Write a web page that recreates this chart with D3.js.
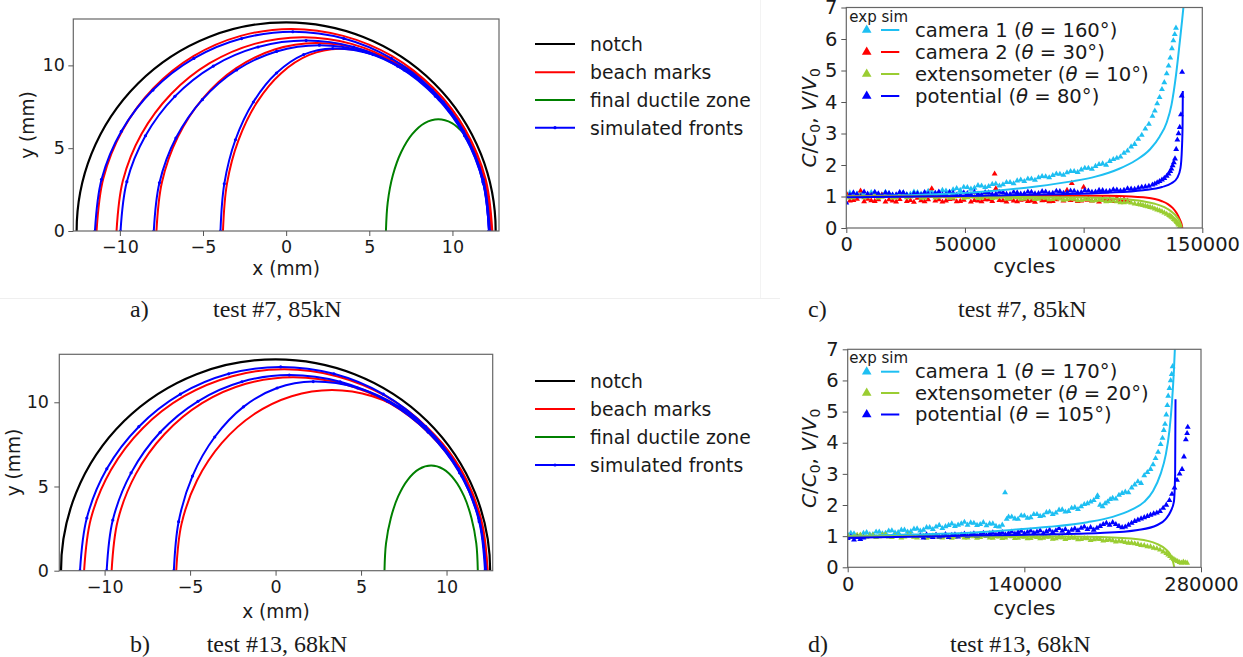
<!DOCTYPE html>
<html><head><meta charset="utf-8">
<script src="https://cdn.jsdelivr.net/npm/d3@7"></script>
<style>
body{margin:0;background:#fff}
svg{display:block}
text{font-family:"DejaVu Sans",sans-serif;fill:#1a1a1a}
</style>
</head><body>
<svg id="fig" width="1243" height="657"></svg>
<script>
// ---------------- DATA ----------------
// Panel a (test #7) crack fronts, [x mm, y mm]
const notchRadiusA = 12.6;
const beachMarksA = [
  [[-11.4,0],[-11.0,3.16],[-9.83,6.1],[-7.97,8.63],[-5.55,10.57],[-2.73,11.78],[0.3,12.2],[3.43,11.78],[6.35,10.57],[8.85,8.63],[10.78,6.1],[11.99,3.16],[12.4,0]],
  [[-10.2,0],[-9.82,3.03],[-8.7,5.85],[-6.92,8.27],[-4.6,10.13],[-1.9,11.3],[1.0,11.7],[3.93,11.3],[6.65,10.13],[8.99,8.27],[10.79,5.85],[11.92,3.03],[12.3,0]],
  [[-7.8,0],[-7.47,2.94],[-6.51,5.68],[-4.99,8.02],[-3.0,9.83],[-0.69,10.96],[1.8,11.35],[4.52,10.96],[7.05,9.83],[9.22,8.02],[10.89,5.68],[11.94,2.94],[12.3,0]],
  [[-3.8,0],[-3.56,2.85],[-2.86,5.5],[-1.75,7.78],[-0.3,9.53],[1.39,10.63],[3.2,11.0],[5.56,10.63],[7.75,9.53],[9.63,7.78],[11.08,5.5],[11.99,2.85],[12.3,0]]
];
const simFrontsA = [
  [[-11.5,0],[-11.1,3.12],[-9.91,6.02],[-8.01,8.51],[-5.55,10.42],[-2.68,11.62],[0.4,12.03],[3.47,11.62],[6.33,10.42],[8.78,8.51],[10.66,6.02],[11.85,3.12],[12.25,0]],
  [[-9.96,0],[-9.58,2.98],[-8.46,5.75],[-6.69,8.13],[-4.38,9.96],[-1.69,11.11],[1.2,11.5],[4.05,11.11],[6.7,9.96],[8.98,8.13],[10.73,5.75],[11.83,2.98],[12.2,0]],
  [[-7.96,0],[-7.62,2.91],[-6.63,5.61],[-5.04,7.93],[-2.98,9.72],[-0.58,10.84],[2.0,11.22],[4.64,10.84],[7.1,9.72],[9.21,7.93],[10.83,5.61],[11.85,2.91],[12.2,0]],
  [[-3.95,0],[-3.72,2.85],[-3.05,5.51],[-1.97,7.79],[-0.58,9.54],[1.05,10.65],[2.8,11.02],[5.23,10.65],[7.5,9.54],[9.45,7.79],[10.94,5.51],[11.88,2.85],[12.2,0]]
];
const ductileA = [[6.0,0],[6.11,1.75],[6.42,3.38],[6.92,4.77],[7.58,5.85],[8.33,6.52],[9.15,6.75],[9.97,6.52],[10.73,5.85]];

// Panel b (test #13)
const notchRadiusB = 12.55;
const beachMarksB = [
  [[-11.2,0],[-10.8,3.1],[-9.63,5.98],[-7.77,8.46],[-5.35,10.36],[-2.53,11.55],[0.5,11.96],[3.58,11.55],[6.45,10.36],[8.91,8.46],[10.81,5.98],[11.95,3.1],[12.4,0]],
  [[-9.59,0],[-9.23,2.98],[-8.17,5.75],[-6.49,8.12],[-4.3,9.95],[-1.74,11.1],[1.0,11.49],[3.94,11.1],[6.68,9.95],[9.02,8.12],[10.83,5.75],[11.96,2.98],[12.35,0]],
  [[-5.81,0],[-5.5,2.78],[-4.59,5.37],[-3.14,7.59],[-1.26,9.29],[0.94,10.36],[3.3,10.73],[5.66,10.36],[7.85,9.29],[9.73,7.59],[11.18,5.37],[12.09,2.78],[12.4,0]]
];
const simFrontsB = [
  [[-11.44,0],[-11.04,3.13],[-9.87,6.05],[-8.0,8.55],[-5.57,10.48],[-2.74,11.69],[0.3,12.1],[3.41,11.69],[6.3,10.48],[8.78,8.55],[10.69,6.05],[11.89,3.13],[12.3,0]],
  [[-9.88,0],[-9.52,3.01],[-8.45,5.81],[-6.75,8.22],[-4.54,10.06],[-1.97,11.22],[0.8,11.62],[3.78,11.22],[6.55,10.06],[8.93,8.22],[10.76,5.81],[11.91,3.01],[12.3,0]],
  [[-5.95,0],[-5.67,2.91],[-4.86,5.62],[-3.56,7.94],[-1.88,9.73],[0.09,10.85],[2.2,11.23],[4.8,10.85],[7.23,9.73],[9.31,7.94],[10.9,5.62],[11.91,2.91],[12.25,0]]
];
const ductileB = [[6.37,0],[6.46,1.62],[6.74,3.12],[7.17,4.41],[7.73,5.4],[8.39,6.03],[9.1,6.24],[9.81,6.03],[10.47,5.4],[11.03,4.41],[11.46,3.12],[11.74,1.62],[11.83,0]];

const frontTicksX = [-10,-5,0,5,10];
const frontTicksY = [0,5,10];
const frontLegend = ["notch","beach marks","final ductile zone","simulated fronts"];

// Panel c (test #7) [cycles, C/C0 or V/V0]
const cam1ExpC = [[0,1.08],[1500,1.12],[3000,1.02],[4500,1.09],[6000,1.1],[7500,1.04],[9000,1.05],[10500,1.13],[12000,1.12],[13500,1.07],[15000,1.06],[16500,1.14],[18000,1.1],[19500,1.05],[21000,1.04],[22500,1.12],[24000,1.12],[25500,1.07],[27000,1.08],[28500,1.15],[30000,1.13],[31500,1.08],[33000,1.09],[34500,1.17],[36000,1.16],[37500,1.11],[39000,1.12],[40500,1.2],[42000,1.18],[43500,1.15],[45000,1.22],[46500,1.26],[48000,1.2],[49500,1.3],[51000,1.29],[52500,1.24],[54000,1.27],[55500,1.35],[57000,1.34],[58500,1.29],[60000,1.32],[61500,1.39],[63000,1.4],[64500,1.34],[66000,1.38],[67500,1.45],[69000,1.45],[70500,1.41],[72000,1.5],[73500,1.53],[75000,1.48],[76500,1.56],[78000,1.56],[79500,1.52],[81000,1.6],[82500,1.64],[84000,1.63],[85500,1.6],[87000,1.67],[88500,1.72],[90000,1.71],[91500,1.68],[93000,1.76],[94500,1.8],[96000,1.8],[97500,1.77],[99000,1.85],[100500,1.9],[102000,1.9],[103500,1.87],[105000,1.96],[106500,2.02],[108000,2.04],[109500,2.0],[111000,2.12],[112500,2.18],[114000,2.22],[115500,2.26],[117000,2.38],[118500,2.45],[120000,2.58],[121500,2.66],[123000,2.82],[124500,2.95],[126000,3.15],[127500,3.3],[129000,3.55],[130000,3.72],[131000,3.95],[132000,4.15],[133000,4.4],[134000,4.62],[135000,4.9],[135800,5.15],[136500,5.4],[137200,5.7],[137800,5.95],[138400,6.15],[138900,6.35]];
const cam2ExpC = [[0,1.1],[1500,0.86],[3000,0.88],[4500,0.92],[6000,1.18],[7500,0.84],[9000,0.92],[10500,0.87],[12000,0.85],[13500,0.9],[15000,1.05],[16500,0.83],[18000,0.9],[19500,0.86],[21000,0.83],[22500,0.91],[24000,1.08],[25500,0.85],[27000,0.88],[28500,0.82],[30000,0.95],[31500,0.87],[33000,0.84],[34500,0.9],[36000,1.25],[37500,0.86],[39000,0.9],[40500,0.83],[42000,0.86],[43500,0.91],[45000,0.93],[46500,0.84],[48000,0.85],[49500,0.89],[51000,0.98],[52500,0.83],[54000,0.88],[55500,0.86],[57000,0.84],[58500,0.9],[60000,0.9],[61500,0.85],[62500,1.72],[63000,1.25],[64500,0.88],[66000,0.87],[67500,0.83],[69000,0.92],[70500,0.86],[72000,0.84],[73500,0.89],[75000,0.9],[76500,0.85],[78000,0.86],[79500,0.82],[81000,0.94],[82500,0.87],[84000,0.88],[85500,0.84],[87000,0.85],[88500,0.9],[90000,0.95],[91500,0.86],[93000,1.2],[94500,0.88],[95000,1.42],[96000,0.9],[97500,0.85],[99000,0.86],[100000,1.3],[101500,0.89],[102000,0.92],[103500,0.86],[105000,0.88],[106500,0.83],[108000,0.92],[109500,0.87],[111000,0.9],[112500,0.85],[114000,0.95],[115500,0.88],[117000,0.9],[118500,0.86]];
const extExpC = [[0,1.02],[1500,0.96],[3000,0.97],[4500,1.01],[6000,1.03],[7500,0.97],[9000,0.99],[10500,1.03],[12000,1.04],[13500,0.96],[15000,0.98],[16500,1.02],[18000,1.02],[19500,0.96],[21000,0.97],[22500,1.02],[24000,1.03],[25500,0.97],[27000,0.99],[28500,1.03],[30000,1.01],[31500,0.95],[33000,0.96],[34500,1.01],[36000,1.02],[37500,0.96],[39000,0.98],[40500,1.02],[42000,1.0],[43500,0.95],[45000,0.96],[46500,1.01],[48000,1.01],[49500,0.95],[51000,0.97],[52500,1.0],[54000,0.99],[55500,0.94],[57000,0.95],[58500,1.0],[60000,0.98],[61500,0.94],[63000,0.96],[64500,0.99],[66000,0.99],[67500,0.93],[69000,0.94],[70500,0.98],[72000,0.97],[73500,0.92],[75000,0.93],[76500,0.97],[78000,0.96],[79500,0.91],[81000,0.92],[82500,0.96],[84000,0.95],[85500,0.9],[87000,0.91],[88500,0.95],[90000,0.93],[91500,0.89],[93000,0.9],[94500,0.93],[96000,0.92],[97500,0.87],[99000,0.88],[100500,0.91],[102000,0.9],[103500,0.86],[105000,0.87],[106500,0.89],[108000,0.88],[109500,0.84],[111000,0.85],[112500,0.86],[114000,0.84],[115500,0.81],[117000,0.81],[118500,0.82],[120000,0.8],[121500,0.77],[123000,0.75],[124000,0.74],[125000,0.72],[126000,0.7],[127000,0.68],[128000,0.66],[129000,0.64],[130000,0.61],[131000,0.58],[132000,0.55],[133000,0.52],[134000,0.48],[135000,0.44],[136000,0.4],[136500,0.38],[137000,0.35],[137500,0.32],[138000,0.28],[138500,0.25],[139000,0.21],[139300,0.18],[139700,0.14],[140000,0.1],[140500,0.04]];
const potExpC = [[0,0.8],[1500,1.05],[3000,1.12],[4500,1.07],[6000,1.0],[7500,1.15],[9000,1.08],[10500,1.04],[12000,1.14],[13500,1.09],[15000,1.03],[16500,1.12],[18000,1.1],[19500,1.05],[21000,1.06],[22500,1.13],[24000,1.12],[25500,1.05],[27000,1.02],[28500,1.1],[30000,1.09],[31500,1.05],[33000,1.13],[34500,1.08],[36000,1.05],[37500,1.11],[39000,1.15],[40500,1.06],[42000,1.07],[43500,1.13],[45000,1.11],[46500,1.05],[48000,1.04],[49500,1.12],[51000,1.1],[52500,1.06],[54000,1.14],[55500,1.08],[57000,1.06],[58500,1.13],[60000,1.12],[61500,1.07],[63000,1.08],[64500,1.14],[66000,1.13],[67500,1.08],[69000,1.07],[70500,1.14],[72000,1.12],[73500,1.08],[75000,1.09],[76500,1.15],[78000,1.14],[79500,1.09],[81000,1.1],[82500,1.16],[84000,1.15],[85500,1.1],[87000,1.11],[88500,1.17],[90000,1.16],[91500,1.11],[93000,1.12],[94500,1.18],[96000,1.17],[97500,1.12],[99000,1.13],[100500,1.19],[102000,1.18],[103500,1.14],[105000,1.15],[106500,1.2],[108000,1.19],[109500,1.16],[111000,1.17],[112500,1.22],[114000,1.21],[115500,1.18],[117000,1.2],[118500,1.25],[120000,1.24],[121500,1.23],[123000,1.27],[124500,1.3],[126000,1.31],[127500,1.33],[129000,1.37],[130000,1.4],[131000,1.44],[132000,1.48],[133000,1.53],[134000,1.58],[135000,1.65],[135800,1.72],[136500,1.8],[137000,1.88],[137500,1.98],[138000,2.08],[138500,2.2],[139000,2.5],[139500,2.8],[140000,3.0],[140500,3.2],[141000,3.6],[141300,4.2],[141500,4.95]];
const cam1SimC = [[0,1.0],[20000,1.03],[40000,1.08],[60000,1.17],[80000,1.32],[95000,1.48],[105000,1.63],[115000,1.88],[122000,2.15],[128000,2.5],[132000,2.9],[135000,3.35],[137000,3.9],[139000,4.9],[140500,5.9],[141500,6.6],[142300,7.2]];
const cam2SimC = [[0,1.0],[40000,1.0],[80000,1.02],[110000,1.02],[120000,1.0],[126000,0.97],[130000,0.92],[133000,0.85],[135500,0.76],[137500,0.64],[139300,0.46],[140600,0.26],[141400,0.08],[141600,0.0]];
const extSimC = [[0,1.0],[60000,0.99],[100000,0.97],[115000,0.93],[125000,0.85],[130000,0.77],[134000,0.66],[137000,0.52],[139000,0.38],[140500,0.2],[141400,0.02]];
const potSimC = [[0,0.98],[30000,1.0],[60000,1.03],[90000,1.07],[110000,1.12],[125000,1.2],[133000,1.3],[137000,1.42],[139500,1.6],[140800,1.9],[141400,2.5],[141700,3.3],[141800,4.35]];
const legendNamesC = ["camera 1","camera 2","extensometer","potential"];
const legendAnglesC = [160,30,10,80];
const cyclesTicksC = [0,50000,100000,150000];

// Panel d (test #13)
const cam1ExpD = [[0,1.05],[2500,1.1],[5000,1.08],[7500,1.02],[10000,1.02],[12500,1.1],[15000,1.12],[17500,1.06],[20000,1.06],[22500,1.14],[25000,1.14],[27500,1.08],[30000,1.1],[32500,1.17],[35000,1.18],[37500,1.11],[40000,1.12],[42500,1.2],[45000,1.2],[47500,1.14],[50000,1.15],[52500,1.23],[55000,1.24],[57500,1.17],[60000,1.2],[62500,1.28],[65000,1.28],[67500,1.22],[70000,1.3],[72500,1.35],[75000,1.25],[77500,1.31],[80000,1.35],[82500,1.4],[85000,1.32],[87500,1.36],[90000,1.4],[92500,1.45],[95000,1.36],[97500,1.43],[100000,1.42],[102500,1.35],[105000,1.38],[107500,1.44],[110000,1.34],[112500,1.4],[115000,1.4],[117500,1.32],[120000,1.3],[122500,1.36],[124700,2.4],[126000,1.55],[127500,1.62],[130000,1.62],[132500,1.56],[135000,1.55],[137500,1.66],[140000,1.65],[142500,1.58],[145000,1.6],[147500,1.7],[150000,1.7],[152500,1.64],[155000,1.66],[157500,1.76],[160000,1.78],[162500,1.7],[165000,1.75],[167500,1.84],[170000,1.85],[172500,1.78],[175000,1.8],[177500,1.9],[180000,1.92],[182500,1.86],[185000,1.95],[187500,2.02],[190000,2.05],[192500,2.1],[195000,2.15],[197500,2.25],[198000,2.3],[200000,2.0],[202000,1.95],[204000,2.05],[206000,2.1],[208000,2.18],[210000,2.22],[212500,2.2],[215000,2.32],[217500,2.38],[220000,2.42],[222500,2.4],[225000,2.55],[227500,2.65],[230000,2.75],[232500,2.7],[235000,2.95],[237500,3.05],[240000,3.15],[242000,3.3],[244000,3.5],[246000,3.7],[248000,3.95],[249500,4.15],[250500,4.4],[251500,4.6],[252500,4.9],[253300,5.2],[254000,5.5],[255000,5.75],[256000,6.0],[256800,6.2],[257500,6.45]];
const extExpD = [[0,1.02],[2500,0.96],[5000,0.98],[7500,1.03],[10000,1.04],[12500,0.97],[15000,0.97],[17500,1.02],[20000,1.03],[22500,0.96],[25000,0.99],[27500,1.04],[30000,1.05],[32500,0.98],[35000,0.96],[37500,1.02],[40000,1.01],[42500,0.95],[45000,0.98],[47500,1.03],[50000,1.03],[52500,0.97],[55000,0.95],[57500,1.01],[60000,1.0],[62500,0.94],[65000,0.97],[67500,1.02],[70000,1.02],[72500,0.96],[75000,0.95],[77500,1.01],[80000,1.0],[82500,0.94],[85000,0.97],[87500,1.02],[90000,1.01],[92500,0.95],[95000,0.95],[97500,1.0],[100000,0.99],[102500,0.94],[105000,0.96],[107500,1.01],[110000,1.0],[112500,0.95],[115000,0.94],[117500,0.99],[120000,0.98],[122500,0.93],[125000,0.95],[127500,1.0],[130000,0.99],[132500,0.93],[135000,0.94],[137500,0.98],[140000,0.97],[142500,0.92],[145000,0.93],[147500,0.98],[150000,0.96],[152500,0.92],[155000,0.94],[157500,0.97],[160000,0.97],[162500,0.91],[165000,0.92],[167500,0.96],[170000,0.95],[172500,0.9],[175000,0.93],[177500,0.95],[180000,0.94],[182500,0.89],[185000,0.9],[187500,0.93],[190000,0.92],[192500,0.87],[195000,0.89],[197500,0.91],[200000,0.9],[202500,0.85],[205000,0.87],[207500,0.88],[210000,0.86],[212500,0.82],[215000,0.84],[217500,0.83],[220000,0.8],[222500,0.78],[225000,0.78],[227500,0.76],[230000,0.74],[232500,0.71],[235000,0.7],[237500,0.67],[240000,0.66],[242500,0.62],[245000,0.6],[247500,0.56],[250000,0.5],[252500,0.45],[254000,0.4],[255500,0.35],[257000,0.3],[258500,0.26],[260000,0.22],[261500,0.19],[263000,0.16],[264500,0.14],[266000,0.17],[267500,0.15],[269000,0.14]];
const potExpD = [[0,0.93],[2500,0.98],[5000,0.88],[7500,0.96],[10000,0.9],[12500,0.95],[57500,1.02],[60000,0.95],[62500,1.05],[65000,1.0],[67500,0.96],[70000,1.04],[72500,0.98],[75000,1.0],[77500,1.06],[80000,0.96],[82500,1.03],[85000,1.05],[87500,0.98],[90000,1.04],[92500,1.07],[95000,1.0],[97500,1.05],[100000,1.08],[102500,1.01],[105000,1.06],[107500,1.1],[110000,1.02],[112500,1.08],[115000,1.11],[117500,1.04],[120000,1.09],[122500,1.12],[125000,1.05],[127500,1.1],[130000,1.14],[132500,1.07],[135000,1.12],[137500,1.16],[140000,1.08],[142500,1.13],[145000,1.17],[147500,1.1],[150000,1.14],[152500,1.18],[155000,1.08],[157500,1.15],[160000,1.2],[162500,1.12],[165000,1.18],[167500,1.25],[170000,1.16],[172500,1.22],[175000,1.12],[177500,1.2],[180000,1.24],[182500,1.18],[185000,1.26],[187500,1.3],[190000,1.22],[192500,1.28],[195000,1.2],[197500,1.26],[200000,1.32],[202500,1.38],[205000,1.42],[207500,1.36],[210000,1.44],[212500,1.38],[215000,1.32],[217500,1.28],[220000,1.3],[222500,1.36],[225000,1.42],[227500,1.48],[230000,1.52],[232500,1.56],[235000,1.6],[237500,1.64],[240000,1.68],[242500,1.72],[245000,1.75],[247500,1.8],[250000,1.9],[252500,2.0],[255000,2.15],[257000,2.35],[259000,2.55],[261000,2.8],[263000,3.0],[265000,3.15],[266500,3.55],[268000,4.1],[269000,4.3],[269500,4.5]];
const cam1SimD = [[0,1.0],[50000,1.05],[100000,1.12],[130000,1.2],[160000,1.3],[190000,1.45],[210000,1.62],[225000,1.85],[235000,2.1],[242000,2.45],[248000,3.0],[252000,3.6],[255000,4.4],[257000,5.3],[258500,6.3],[259500,7.2]];
const extSimD = [[0,1.0],[150000,1.0],[200000,0.97],[230000,0.9],[245000,0.75],[252000,0.58],[256000,0.38],[258000,0.15],[258800,0.0]];
const potSimD = [[0,0.95],[50000,0.98],[100000,1.02],[150000,1.05],[200000,1.1],[230000,1.2],[245000,1.35],[252000,1.55],[256000,1.8],[258500,2.1],[259500,3.0],[259800,5.4]];
const legendNamesD = ["camera 1","extensometer","potential"];
const legendAnglesD = [170,20,105];
const cyclesTicksD = [0,140000,280000];
const ratioTicks = [0,1,2,3,4,5,6,7];

const captionsLetters = ["a)","b)","c)","d)"];
const captionsTests = ["test #7, 85kN","test #13, 68kN","test #7, 85kN","test #13, 68kN"];

// ---------------- DRAWING ----------------
const svg = d3.select('#fig');
const frontColors = {notch:'#000000', beach:'#ff0000', ductile:'#008000', sim:'#0000ff'};
const colCam1 = '#1ebff2', colCam2 = '#ff0000', colExt = '#9acd32', colPot = '#0000ff';

svg.append('line').attr('x1',0).attr('x2',780).attr('y1',298.5).attr('y2',298.5).attr('stroke','#efefef');
svg.append('line').attr('x1',760.5).attr('x2',760.5).attr('y1',0).attr('y2',298).attr('stroke','#f3f3f3');

function styleAxis(ax, fs) {
  ax.attr('font-size', null).attr('font-family', null);
  ax.select('.domain').remove();
  ax.selectAll('.tick line').attr('stroke', '#555').attr('stroke-width', 1);
  ax.selectAll('.tick text').attr('fill', '#222').style('font-size', fs + 'px');
}

function frontPanel(c) {
  const g = svg.append('g');
  const x = d3.scaleLinear().domain(c.xDom).range([c.L, c.R]);
  const y = d3.scaleLinear().domain(c.yDom).range([c.B, c.T]);
  const id = 'clip' + c.key;
  g.append('clipPath').attr('id', id).append('rect')
    .attr('x', c.L).attr('y', c.T - 2).attr('width', c.R - c.L).attr('height', c.B - c.T + 2);
  const plot = g.append('g').attr('clip-path', `url(#${id})`);
  const line = d3.line().x(d => x(d[0])).y(d => y(d[1])).curve(d3.curveCatmullRom.alpha(0.5));
  const rx = x(c.notchR) - x(0), ry = y(0) - y(c.notchR);
  plot.append('path')
    .attr('d', `M${x(-c.notchR)},${y(0)}A${rx},${ry} 0 0 1 ${x(c.notchR)},${y(0)}`)
    .attr('fill', 'none').attr('stroke', frontColors.notch).attr('stroke-width', 2.2);
  c.beach.forEach(b => plot.append('path').attr('d', line(b)).attr('fill', 'none')
    .attr('stroke', frontColors.beach).attr('stroke-width', 2));
  plot.append('path').attr('d', line(c.ductile)).attr('fill', 'none')
    .attr('stroke', frontColors.ductile).attr('stroke-width', 2);
  c.sim.forEach(s => {
    plot.append('path').attr('d', line(s)).attr('fill', 'none')
      .attr('stroke', frontColors.sim).attr('stroke-width', 2);
    plot.selectAll(null).data(s).join('circle')
      .attr('cx', d => x(d[0])).attr('cy', d => y(d[1])).attr('r', 1.6).attr('fill', frontColors.sim);
  });
  g.append('rect').attr('x', c.L).attr('y', c.T).attr('width', c.R - c.L).attr('height', c.B - c.T)
    .attr('fill', 'none').attr('stroke', '#666').attr('stroke-width', 1.2);
  const xa = g.append('g').attr('transform', `translate(0,${c.B})`)
    .call(d3.axisBottom(x).tickValues(frontTicksX).tickSize(5).tickPadding(c.xPad));
  styleAxis(xa, 17.5);
  const ya = g.append('g').attr('transform', `translate(${c.L},0)`)
    .call(d3.axisLeft(y).tickValues(frontTicksY).tickSize(5).tickPadding(c.yPad));
  styleAxis(ya, 17.5);
  g.append('text').attr('x', (c.L + c.R) / 2).attr('y', c.xLabY).attr('text-anchor', 'middle')
    .style('font-size', '18.6px').text('x (mm)');
  g.append('text').attr('transform', `translate(${c.yLabX},${(c.T + c.B) / 2}) rotate(-90)`)
    .attr('text-anchor', 'middle').style('font-size', '18.6px').text('y (mm)');
  const cols = [frontColors.notch, frontColors.beach, frontColors.ductile, frontColors.sim];
  frontLegend.forEach((name, i) => {
    const ry0 = c.legY[i];
    g.append('line').attr('x1', 535).attr('x2', 575).attr('y1', ry0).attr('y2', ry0)
      .attr('stroke', cols[i]).attr('stroke-width', 2);
    if (i === 3) g.append('circle').attr('cx', 555).attr('cy', ry0).attr('r', 1.6).attr('fill', cols[i]);
    g.append('text').attr('x', 590).attr('y', ry0 + 7).style('font-size', '18.8px').text(name);
  });
}

function cyclePanel(c) {
  const g = svg.append('g');
  const x = d3.scaleLinear().domain([0, c.xMax]).range([c.L, c.R]);
  const y = d3.scaleLinear().domain([0, 7]).range([c.B, c.T]);
  const id = 'clip' + c.key;
  g.append('clipPath').attr('id', id).append('rect')
    .attr('x', c.L).attr('y', c.T).attr('width', c.R - c.L).attr('height', c.B - c.T);
  const plot = g.append('g').attr('clip-path', `url(#${id})`);
  const line = d3.line().x(d => x(d[0])).y(d => y(d[1])).curve(d3.curveMonotoneX);
  const tri = d3.symbol(d3.symbolTriangle, 15)();
  c.series.forEach(s => {
    plot.selectAll(null).data(s.exp).join('path')
      .attr('transform', d => `translate(${x(d[0])},${y(d[1])})`)
      .attr('d', tri).attr('fill', s.color);
  });
  c.series.forEach(s => {
    plot.append('path').attr('d', line(s.sim)).attr('fill', 'none')
      .attr('stroke', s.color).attr('stroke-width', 2);
  });
  g.append('rect').attr('x', c.L).attr('y', c.T).attr('width', c.R - c.L).attr('height', c.B - c.T)
    .attr('fill', 'none').attr('stroke', '#666').attr('stroke-width', 1.2);
  const xa = g.append('g').attr('transform', `translate(0,${c.B})`)
    .call(d3.axisBottom(x).tickValues(c.xTicks).tickFormat(d3.format('d')).tickSize(5).tickPadding(c.xPad));
  styleAxis(xa, 19.5);
  const ya = g.append('g').attr('transform', `translate(${c.L},0)`)
    .call(d3.axisLeft(y).tickValues(ratioTicks).tickFormat(d3.format('d')).tickSize(5).tickPadding(4));
  styleAxis(ya, 19.5);
  g.append('text').attr('x', (c.L + c.R) / 2).attr('y', c.xLabY).attr('text-anchor', 'middle')
    .style('font-size', '20px').text('cycles');
  const yl = g.append('text').attr('transform', `translate(816,${(c.T + c.B) / 2}) rotate(-90)`)
    .attr('text-anchor', 'middle').style('font-size', '20px');
  yl.append('tspan').attr('font-style', 'italic').text('C');
  yl.append('tspan').text('/');
  yl.append('tspan').attr('font-style', 'italic').text('C');
  yl.append('tspan').attr('dy', 4).style('font-size', '14px').text('0');
  yl.append('tspan').attr('dy', -4).text(',  ');
  yl.append('tspan').attr('font-style', 'italic').text('V');
  yl.append('tspan').text('/');
  yl.append('tspan').attr('font-style', 'italic').text('V');
  yl.append('tspan').attr('dy', 4).style('font-size', '14px').text('0');
  g.append('text').attr('x', 849.3).attr('y', c.expSimY).style('font-size', '15px').text('exp sim');
  const bigTri = d3.symbol(d3.symbolTriangle, 40)();
  c.series.forEach((s, i) => {
    const ry0 = c.legY[i];
    g.append('path').attr('d', bigTri).attr('transform', `translate(866.7,${ry0})`).attr('fill', s.color);
    g.append('line').attr('x1', 881).attr('x2', 899.3).attr('y1', ry0).attr('y2', ry0)
      .attr('stroke', s.color).attr('stroke-width', 2);
    const t = g.append('text').attr('x', 915).attr('y', ry0 + 6.7).style('font-size', '19.6px');
    t.append('tspan').text(s.name + ' (');
    t.append('tspan').attr('font-style', 'italic').text('θ');
    t.append('tspan').text(' = ' + s.angle + '°)');
  });
}

frontPanel({key:'a', L:73.3, R:499, T:19, B:231, xDom:[-12.8,12.8], yDom:[0,12.8],
  notchR:notchRadiusA, beach:beachMarksA, sim:simFrontsA, ductile:ductileA,
  xPad:4.5, yPad:3.5, xLabY:275, yLabX:34.3, legY:[44,72.3,100,127.7]});
frontPanel({key:'b', L:59.3, R:492.7, T:354.3, B:570.7, xDom:[-12.65,12.7], yDom:[0,12.85],
  notchR:notchRadiusB, beach:beachMarksB, sim:simFrontsB, ductile:ductileB,
  xPad:5, yPad:5.3, xLabY:617.5, yLabX:19.5, legY:[381,409,437,465]});

const seriesC = [
  {name:legendNamesC[0], angle:legendAnglesC[0], color:colCam1, exp:cam1ExpC, sim:cam1SimC},
  {name:legendNamesC[1], angle:legendAnglesC[1], color:colCam2, exp:cam2ExpC, sim:cam2SimC},
  {name:legendNamesC[2], angle:legendAnglesC[2], color:colExt, exp:extExpC, sim:extSimC},
  {name:legendNamesC[3], angle:legendAnglesC[3], color:colPot, exp:potExpC, sim:potSimC}
];
const seriesD = [
  {name:legendNamesD[0], angle:legendAnglesD[0], color:colCam1, exp:cam1ExpD, sim:cam1SimD},
  {name:legendNamesD[1], angle:legendAnglesD[1], color:colExt, exp:extExpD, sim:extSimD},
  {name:legendNamesD[2], angle:legendAnglesD[2], color:colPot, exp:potExpD, sim:potSimD}
];
cyclePanel({key:'c', L:846.3, R:1202.3, T:7.5, B:228, xMax:150000, xTicks:cyclesTicksC,
  xPad:4, xLabY:272.5, series:seriesC, expSimY:21.5, legY:[30,52,74,96]});
cyclePanel({key:'d', L:847.7, R:1201, T:349.3, B:567.3, xMax:280000, xTicks:cyclesTicksD,
  xPad:5.2, xLabY:614.5, series:seriesD, expSimY:363, legY:[371.7,393,414.5]});

const capPos = [[130,213,316.7],[130,206.7,651.7],[808,958,316.7],[808,950,651.7]];
captionsLetters.forEach((l, i) => {
  svg.append('text').attr('x', capPos[i][0]).attr('y', capPos[i][2])
    .style('font-family', '"Liberation Serif", serif').style('font-size', '24px').attr('fill', '#111').text(l);
  svg.append('text').attr('x', capPos[i][1]).attr('y', capPos[i][2])
    .style('font-family', '"Liberation Serif", serif').style('font-size', '24px').attr('fill', '#111').text(captionsTests[i]);
});
</script>
</body></html>
